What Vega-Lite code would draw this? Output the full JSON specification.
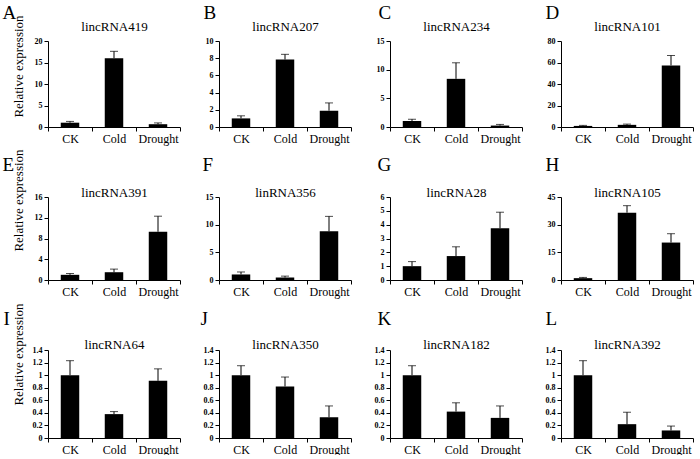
{
  "$schema": "https://vega.github.io/schema/vega-lite/v6.json",
  "padding": {"left": 2, "top": 3, "right": 0, "bottom": 0},
  "background": "white",
  "data": {"values": [
    {"gene": "lincRNA419", "condition": "CK", "value": 1.0, "upper": 1.3},
    {"gene": "lincRNA419", "condition": "Cold", "value": 16.0, "upper": 17.6},
    {"gene": "lincRNA419", "condition": "Drought", "value": 0.65, "upper": 0.95},
    {"gene": "lincRNA207", "condition": "CK", "value": 1.0, "upper": 1.3},
    {"gene": "lincRNA207", "condition": "Cold", "value": 7.85, "upper": 8.45},
    {"gene": "lincRNA207", "condition": "Drought", "value": 1.9, "upper": 2.8},
    {"gene": "lincRNA234", "condition": "CK", "value": 1.05, "upper": 1.35},
    {"gene": "lincRNA234", "condition": "Cold", "value": 8.4, "upper": 11.2},
    {"gene": "lincRNA234", "condition": "Drought", "value": 0.25, "upper": 0.45},
    {"gene": "lincRNA101", "condition": "CK", "value": 1.0, "upper": 1.5},
    {"gene": "lincRNA101", "condition": "Cold", "value": 2.0, "upper": 2.7},
    {"gene": "lincRNA101", "condition": "Drought", "value": 57.3, "upper": 66.5},
    {"gene": "lincRNA391", "condition": "CK", "value": 1.0, "upper": 1.25},
    {"gene": "lincRNA391", "condition": "Cold", "value": 1.5, "upper": 2.1},
    {"gene": "lincRNA391", "condition": "Drought", "value": 9.3, "upper": 12.3},
    {"gene": "linRNA356", "condition": "CK", "value": 1.0, "upper": 1.45},
    {"gene": "linRNA356", "condition": "Cold", "value": 0.45, "upper": 0.7},
    {"gene": "linRNA356", "condition": "Drought", "value": 8.8, "upper": 11.5},
    {"gene": "lincRNA28", "condition": "CK", "value": 1.0, "upper": 1.33},
    {"gene": "lincRNA28", "condition": "Cold", "value": 1.73, "upper": 2.4},
    {"gene": "lincRNA28", "condition": "Drought", "value": 3.74, "upper": 4.9},
    {"gene": "lincRNA105", "condition": "CK", "value": 1.0, "upper": 1.4},
    {"gene": "lincRNA105", "condition": "Cold", "value": 36.5, "upper": 40.3},
    {"gene": "lincRNA105", "condition": "Drought", "value": 20.3, "upper": 25.1},
    {"gene": "lincRNA64", "condition": "CK", "value": 1.0, "upper": 1.23},
    {"gene": "lincRNA64", "condition": "Cold", "value": 0.38, "upper": 0.42},
    {"gene": "lincRNA64", "condition": "Drought", "value": 0.91, "upper": 1.1},
    {"gene": "lincRNA350", "condition": "CK", "value": 1.0, "upper": 1.15},
    {"gene": "lincRNA350", "condition": "Cold", "value": 0.82, "upper": 0.97},
    {"gene": "lincRNA350", "condition": "Drought", "value": 0.33, "upper": 0.51},
    {"gene": "lincRNA182", "condition": "CK", "value": 1.0, "upper": 1.15},
    {"gene": "lincRNA182", "condition": "Cold", "value": 0.42, "upper": 0.56},
    {"gene": "lincRNA182", "condition": "Drought", "value": 0.32, "upper": 0.51},
    {"gene": "lincRNA392", "condition": "CK", "value": 1.0, "upper": 1.23},
    {"gene": "lincRNA392", "condition": "Cold", "value": 0.22, "upper": 0.41},
    {"gene": "lincRNA392", "condition": "Drought", "value": 0.12, "upper": 0.19}
  ]},
  "columns": 4,
  "bounds": "flush",
  "spacing": {"row": 70, "column": 39},
  "concat": [
    {"width": 132, "height": 86,
     "transform": [{"filter": {"field": "gene", "equal": "lincRNA419"}}],
     "layer": [
      {"mark": {"type": "bar", "color": "black", "width": {"band": 0.42}},
       "encoding": {"x": {"field": "condition", "type": "nominal", "sort": ["CK", "Cold", "Drought"], "scale": {"type": "band", "paddingInner": 0, "paddingOuter": 0}, "axis": {"orient": "bottom", "title": null}},
        "y": {"field": "value", "type": "quantitative", "scale": {"domain": [0, 20], "nice": false}, "axis": {"orient": "left", "values": [0, 5, 10, 15, 20], "title": "Relative expression", "titleY": 25}}}},
      {"mark": {"type": "rule", "color": "black"},
       "encoding": {"x": {"field": "condition", "type": "nominal", "sort": ["CK", "Cold", "Drought"], "scale": {"type": "band", "paddingInner": 0, "paddingOuter": 0}, "axis": null},
        "y": {"field": "value", "type": "quantitative", "axis": {"orient": "right", "title": "A", "titleX": -178, "titleY": -23}}, "y2": {"field": "upper"}}},
      {"mark": {"type": "tick", "color": "black", "size": 8, "thickness": 1},
       "encoding": {"x": {"field": "condition", "type": "nominal", "sort": ["CK", "Cold", "Drought"], "scale": {"type": "band", "paddingInner": 0, "paddingOuter": 0}, "axis": {"orient": "top", "title": "lincRNA419", "titleY": -11}},
        "y": {"field": "upper", "type": "quantitative", "axis": null}}}
     ],
     "resolve": {"axis": {"x": "independent", "y": "independent"}}},
    {"width": 132, "height": 86,
     "transform": [{"filter": {"field": "gene", "equal": "lincRNA207"}}],
     "layer": [
      {"mark": {"type": "bar", "color": "black", "width": {"band": 0.42}},
       "encoding": {"x": {"field": "condition", "type": "nominal", "sort": ["CK", "Cold", "Drought"], "scale": {"type": "band", "paddingInner": 0, "paddingOuter": 0}, "axis": {"orient": "bottom", "title": null}},
        "y": {"field": "value", "type": "quantitative", "scale": {"domain": [0, 10], "nice": false}, "axis": {"orient": "left", "values": [0, 2, 4, 6, 8, 10], "title": null}}}},
      {"mark": {"type": "rule", "color": "black"},
       "encoding": {"x": {"field": "condition", "type": "nominal", "sort": ["CK", "Cold", "Drought"], "scale": {"type": "band", "paddingInner": 0, "paddingOuter": 0}, "axis": null},
        "y": {"field": "value", "type": "quantitative", "axis": {"orient": "right", "title": "B", "titleX": -148, "titleY": -23}}, "y2": {"field": "upper"}}},
      {"mark": {"type": "tick", "color": "black", "size": 8, "thickness": 1},
       "encoding": {"x": {"field": "condition", "type": "nominal", "sort": ["CK", "Cold", "Drought"], "scale": {"type": "band", "paddingInner": 0, "paddingOuter": 0}, "axis": {"orient": "top", "title": "lincRNA207", "titleY": -11}},
        "y": {"field": "upper", "type": "quantitative", "axis": null}}}
     ],
     "resolve": {"axis": {"x": "independent", "y": "independent"}}},
    {"width": 132, "height": 86,
     "transform": [{"filter": {"field": "gene", "equal": "lincRNA234"}}],
     "layer": [
      {"mark": {"type": "bar", "color": "black", "width": {"band": 0.42}},
       "encoding": {"x": {"field": "condition", "type": "nominal", "sort": ["CK", "Cold", "Drought"], "scale": {"type": "band", "paddingInner": 0, "paddingOuter": 0}, "axis": {"orient": "bottom", "title": null}},
        "y": {"field": "value", "type": "quantitative", "scale": {"domain": [0, 15], "nice": false}, "axis": {"orient": "left", "values": [0, 5, 10, 15], "title": null}}}},
      {"mark": {"type": "rule", "color": "black"},
       "encoding": {"x": {"field": "condition", "type": "nominal", "sort": ["CK", "Cold", "Drought"], "scale": {"type": "band", "paddingInner": 0, "paddingOuter": 0}, "axis": null},
        "y": {"field": "value", "type": "quantitative", "axis": {"orient": "right", "title": "C", "titleX": -144, "titleY": -23}}, "y2": {"field": "upper"}}},
      {"mark": {"type": "tick", "color": "black", "size": 8, "thickness": 1},
       "encoding": {"x": {"field": "condition", "type": "nominal", "sort": ["CK", "Cold", "Drought"], "scale": {"type": "band", "paddingInner": 0, "paddingOuter": 0}, "axis": {"orient": "top", "title": "lincRNA234", "titleY": -11}},
        "y": {"field": "upper", "type": "quantitative", "axis": null}}}
     ],
     "resolve": {"axis": {"x": "independent", "y": "independent"}}},
    {"width": 132, "height": 86,
     "transform": [{"filter": {"field": "gene", "equal": "lincRNA101"}}],
     "layer": [
      {"mark": {"type": "bar", "color": "black", "width": {"band": 0.42}},
       "encoding": {"x": {"field": "condition", "type": "nominal", "sort": ["CK", "Cold", "Drought"], "scale": {"type": "band", "paddingInner": 0, "paddingOuter": 0}, "axis": {"orient": "bottom", "title": null}},
        "y": {"field": "value", "type": "quantitative", "scale": {"domain": [0, 80], "nice": false}, "axis": {"orient": "left", "values": [0, 20, 40, 60, 80], "title": null}}}},
      {"mark": {"type": "rule", "color": "black"},
       "encoding": {"x": {"field": "condition", "type": "nominal", "sort": ["CK", "Cold", "Drought"], "scale": {"type": "band", "paddingInner": 0, "paddingOuter": 0}, "axis": null},
        "y": {"field": "value", "type": "quantitative", "axis": {"orient": "right", "title": "D", "titleX": -148, "titleY": -23}}, "y2": {"field": "upper"}}},
      {"mark": {"type": "tick", "color": "black", "size": 8, "thickness": 1},
       "encoding": {"x": {"field": "condition", "type": "nominal", "sort": ["CK", "Cold", "Drought"], "scale": {"type": "band", "paddingInner": 0, "paddingOuter": 0}, "axis": {"orient": "top", "title": "lincRNA101", "titleY": -11}},
        "y": {"field": "upper", "type": "quantitative", "axis": null}}}
     ],
     "resolve": {"axis": {"x": "independent", "y": "independent"}}},
    {"width": 132, "height": 83,
     "transform": [{"filter": {"field": "gene", "equal": "lincRNA391"}}],
     "layer": [
      {"mark": {"type": "bar", "color": "black", "width": {"band": 0.42}},
       "encoding": {"x": {"field": "condition", "type": "nominal", "sort": ["CK", "Cold", "Drought"], "scale": {"type": "band", "paddingInner": 0, "paddingOuter": 0}, "axis": {"orient": "bottom", "title": null}},
        "y": {"field": "value", "type": "quantitative", "scale": {"domain": [0, 16], "nice": false}, "axis": {"orient": "left", "values": [0, 4, 8, 12, 16], "title": "Relative expression", "titleY": 3}}}},
      {"mark": {"type": "rule", "color": "black"},
       "encoding": {"x": {"field": "condition", "type": "nominal", "sort": ["CK", "Cold", "Drought"], "scale": {"type": "band", "paddingInner": 0, "paddingOuter": 0}, "axis": null},
        "y": {"field": "value", "type": "quantitative", "axis": {"orient": "right", "title": "E", "titleX": -178, "titleY": -27}}, "y2": {"field": "upper"}}},
      {"mark": {"type": "tick", "color": "black", "size": 8, "thickness": 1},
       "encoding": {"x": {"field": "condition", "type": "nominal", "sort": ["CK", "Cold", "Drought"], "scale": {"type": "band", "paddingInner": 0, "paddingOuter": 0}, "axis": {"orient": "top", "title": "lincRNA391", "titleY": -1}},
        "y": {"field": "upper", "type": "quantitative", "axis": null}}}
     ],
     "resolve": {"axis": {"x": "independent", "y": "independent"}}},
    {"width": 132, "height": 83,
     "transform": [{"filter": {"field": "gene", "equal": "linRNA356"}}],
     "layer": [
      {"mark": {"type": "bar", "color": "black", "width": {"band": 0.42}},
       "encoding": {"x": {"field": "condition", "type": "nominal", "sort": ["CK", "Cold", "Drought"], "scale": {"type": "band", "paddingInner": 0, "paddingOuter": 0}, "axis": {"orient": "bottom", "title": null}},
        "y": {"field": "value", "type": "quantitative", "scale": {"domain": [0, 15], "nice": false}, "axis": {"orient": "left", "values": [0, 5, 10, 15], "title": null}}}},
      {"mark": {"type": "rule", "color": "black"},
       "encoding": {"x": {"field": "condition", "type": "nominal", "sort": ["CK", "Cold", "Drought"], "scale": {"type": "band", "paddingInner": 0, "paddingOuter": 0}, "axis": null},
        "y": {"field": "value", "type": "quantitative", "axis": {"orient": "right", "title": "F", "titleX": -149, "titleY": -27}}, "y2": {"field": "upper"}}},
      {"mark": {"type": "tick", "color": "black", "size": 8, "thickness": 1},
       "encoding": {"x": {"field": "condition", "type": "nominal", "sort": ["CK", "Cold", "Drought"], "scale": {"type": "band", "paddingInner": 0, "paddingOuter": 0}, "axis": {"orient": "top", "title": "linRNA356", "titleY": -1}},
        "y": {"field": "upper", "type": "quantitative", "axis": null}}}
     ],
     "resolve": {"axis": {"x": "independent", "y": "independent"}}},
    {"width": 132, "height": 83,
     "transform": [{"filter": {"field": "gene", "equal": "lincRNA28"}}],
     "layer": [
      {"mark": {"type": "bar", "color": "black", "width": {"band": 0.42}},
       "encoding": {"x": {"field": "condition", "type": "nominal", "sort": ["CK", "Cold", "Drought"], "scale": {"type": "band", "paddingInner": 0, "paddingOuter": 0}, "axis": {"orient": "bottom", "title": null}},
        "y": {"field": "value", "type": "quantitative", "scale": {"domain": [0, 6], "nice": false}, "axis": {"orient": "left", "values": [0, 1, 2, 3, 4, 5, 6], "title": null}}}},
      {"mark": {"type": "rule", "color": "black"},
       "encoding": {"x": {"field": "condition", "type": "nominal", "sort": ["CK", "Cold", "Drought"], "scale": {"type": "band", "paddingInner": 0, "paddingOuter": 0}, "axis": null},
        "y": {"field": "value", "type": "quantitative", "axis": {"orient": "right", "title": "G", "titleX": -145, "titleY": -27}}, "y2": {"field": "upper"}}},
      {"mark": {"type": "tick", "color": "black", "size": 8, "thickness": 1},
       "encoding": {"x": {"field": "condition", "type": "nominal", "sort": ["CK", "Cold", "Drought"], "scale": {"type": "band", "paddingInner": 0, "paddingOuter": 0}, "axis": {"orient": "top", "title": "lincRNA28", "titleY": -1}},
        "y": {"field": "upper", "type": "quantitative", "axis": null}}}
     ],
     "resolve": {"axis": {"x": "independent", "y": "independent"}}},
    {"width": 132, "height": 83,
     "transform": [{"filter": {"field": "gene", "equal": "lincRNA105"}}],
     "layer": [
      {"mark": {"type": "bar", "color": "black", "width": {"band": 0.42}},
       "encoding": {"x": {"field": "condition", "type": "nominal", "sort": ["CK", "Cold", "Drought"], "scale": {"type": "band", "paddingInner": 0, "paddingOuter": 0}, "axis": {"orient": "bottom", "title": null}},
        "y": {"field": "value", "type": "quantitative", "scale": {"domain": [0, 45], "nice": false}, "axis": {"orient": "left", "values": [0, 15, 30, 45], "title": null}}}},
      {"mark": {"type": "rule", "color": "black"},
       "encoding": {"x": {"field": "condition", "type": "nominal", "sort": ["CK", "Cold", "Drought"], "scale": {"type": "band", "paddingInner": 0, "paddingOuter": 0}, "axis": null},
        "y": {"field": "value", "type": "quantitative", "axis": {"orient": "right", "title": "H", "titleX": -148, "titleY": -27}}, "y2": {"field": "upper"}}},
      {"mark": {"type": "tick", "color": "black", "size": 8, "thickness": 1},
       "encoding": {"x": {"field": "condition", "type": "nominal", "sort": ["CK", "Cold", "Drought"], "scale": {"type": "band", "paddingInner": 0, "paddingOuter": 0}, "axis": {"orient": "top", "title": "lincRNA105", "titleY": -1}},
        "y": {"field": "upper", "type": "quantitative", "axis": null}}}
     ],
     "resolve": {"axis": {"x": "independent", "y": "independent"}}},
    {"width": 132, "height": 88,
     "transform": [{"filter": {"field": "gene", "equal": "lincRNA64"}}],
     "layer": [
      {"mark": {"type": "bar", "color": "black", "width": {"band": 0.42}},
       "encoding": {"x": {"field": "condition", "type": "nominal", "sort": ["CK", "Cold", "Drought"], "scale": {"type": "band", "paddingInner": 0, "paddingOuter": 0}, "axis": {"orient": "bottom", "title": null}},
        "y": {"field": "value", "type": "quantitative", "scale": {"domain": [0, 1.4], "nice": false}, "axis": {"orient": "left", "values": [0, 0.2, 0.4, 0.6, 0.8, 1, 1.2, 1.4], "title": "Relative expression", "titleY": 4}}}},
      {"mark": {"type": "rule", "color": "black"},
       "encoding": {"x": {"field": "condition", "type": "nominal", "sort": ["CK", "Cold", "Drought"], "scale": {"type": "band", "paddingInner": 0, "paddingOuter": 0}, "axis": null},
        "y": {"field": "value", "type": "quantitative", "axis": {"orient": "right", "title": "I", "titleX": -177, "titleY": -26}}, "y2": {"field": "upper"}}},
      {"mark": {"type": "tick", "color": "black", "size": 8, "thickness": 1},
       "encoding": {"x": {"field": "condition", "type": "nominal", "sort": ["CK", "Cold", "Drought"], "scale": {"type": "band", "paddingInner": 0, "paddingOuter": 0}, "axis": {"orient": "top", "title": "lincRNA64", "titleY": -2}},
        "y": {"field": "upper", "type": "quantitative", "axis": null}}}
     ],
     "resolve": {"axis": {"x": "independent", "y": "independent"}}},
    {"width": 132, "height": 88,
     "transform": [{"filter": {"field": "gene", "equal": "lincRNA350"}}],
     "layer": [
      {"mark": {"type": "bar", "color": "black", "width": {"band": 0.42}},
       "encoding": {"x": {"field": "condition", "type": "nominal", "sort": ["CK", "Cold", "Drought"], "scale": {"type": "band", "paddingInner": 0, "paddingOuter": 0}, "axis": {"orient": "bottom", "title": null}},
        "y": {"field": "value", "type": "quantitative", "scale": {"domain": [0, 1.4], "nice": false}, "axis": {"orient": "left", "values": [0, 0.2, 0.4, 0.6, 0.8, 1, 1.2, 1.4], "title": null}}}},
      {"mark": {"type": "rule", "color": "black"},
       "encoding": {"x": {"field": "condition", "type": "nominal", "sort": ["CK", "Cold", "Drought"], "scale": {"type": "band", "paddingInner": 0, "paddingOuter": 0}, "axis": null},
        "y": {"field": "value", "type": "quantitative", "axis": {"orient": "right", "title": "J", "titleX": -151, "titleY": -26}}, "y2": {"field": "upper"}}},
      {"mark": {"type": "tick", "color": "black", "size": 8, "thickness": 1},
       "encoding": {"x": {"field": "condition", "type": "nominal", "sort": ["CK", "Cold", "Drought"], "scale": {"type": "band", "paddingInner": 0, "paddingOuter": 0}, "axis": {"orient": "top", "title": "lincRNA350", "titleY": -2}},
        "y": {"field": "upper", "type": "quantitative", "axis": null}}}
     ],
     "resolve": {"axis": {"x": "independent", "y": "independent"}}},
    {"width": 132, "height": 88,
     "transform": [{"filter": {"field": "gene", "equal": "lincRNA182"}}],
     "layer": [
      {"mark": {"type": "bar", "color": "black", "width": {"band": 0.42}},
       "encoding": {"x": {"field": "condition", "type": "nominal", "sort": ["CK", "Cold", "Drought"], "scale": {"type": "band", "paddingInner": 0, "paddingOuter": 0}, "axis": {"orient": "bottom", "title": null}},
        "y": {"field": "value", "type": "quantitative", "scale": {"domain": [0, 1.4], "nice": false}, "axis": {"orient": "left", "values": [0, 0.2, 0.4, 0.6, 0.8, 1, 1.2, 1.4], "title": null}}}},
      {"mark": {"type": "rule", "color": "black"},
       "encoding": {"x": {"field": "condition", "type": "nominal", "sort": ["CK", "Cold", "Drought"], "scale": {"type": "band", "paddingInner": 0, "paddingOuter": 0}, "axis": null},
        "y": {"field": "value", "type": "quantitative", "axis": {"orient": "right", "title": "K", "titleX": -145, "titleY": -26}}, "y2": {"field": "upper"}}},
      {"mark": {"type": "tick", "color": "black", "size": 8, "thickness": 1},
       "encoding": {"x": {"field": "condition", "type": "nominal", "sort": ["CK", "Cold", "Drought"], "scale": {"type": "band", "paddingInner": 0, "paddingOuter": 0}, "axis": {"orient": "top", "title": "lincRNA182", "titleY": -2}},
        "y": {"field": "upper", "type": "quantitative", "axis": null}}}
     ],
     "resolve": {"axis": {"x": "independent", "y": "independent"}}},
    {"width": 132, "height": 88,
     "transform": [{"filter": {"field": "gene", "equal": "lincRNA392"}}],
     "layer": [
      {"mark": {"type": "bar", "color": "black", "width": {"band": 0.42}},
       "encoding": {"x": {"field": "condition", "type": "nominal", "sort": ["CK", "Cold", "Drought"], "scale": {"type": "band", "paddingInner": 0, "paddingOuter": 0}, "axis": {"orient": "bottom", "title": null}},
        "y": {"field": "value", "type": "quantitative", "scale": {"domain": [0, 1.4], "nice": false}, "axis": {"orient": "left", "values": [0, 0.2, 0.4, 0.6, 0.8, 1, 1.2, 1.4], "title": null}}}},
      {"mark": {"type": "rule", "color": "black"},
       "encoding": {"x": {"field": "condition", "type": "nominal", "sort": ["CK", "Cold", "Drought"], "scale": {"type": "band", "paddingInner": 0, "paddingOuter": 0}, "axis": null},
        "y": {"field": "value", "type": "quantitative", "axis": {"orient": "right", "title": "L", "titleX": -148, "titleY": -26}}, "y2": {"field": "upper"}}},
      {"mark": {"type": "tick", "color": "black", "size": 8, "thickness": 1},
       "encoding": {"x": {"field": "condition", "type": "nominal", "sort": ["CK", "Cold", "Drought"], "scale": {"type": "band", "paddingInner": 0, "paddingOuter": 0}, "axis": {"orient": "top", "title": "lincRNA392", "titleY": -2}},
        "y": {"field": "upper", "type": "quantitative", "axis": null}}}
     ],
     "resolve": {"axis": {"x": "independent", "y": "independent"}}}
  ],
  "config": {
    "view": {"stroke": null},
    "font": "Liberation Serif",
    "axis": {"grid": false, "labelFont": "Liberation Serif", "labelColor": "black", "domainColor": "black", "tickColor": "black", "tickSize": 4, "titleFont": "Liberation Serif", "titleColor": "black", "titleFontWeight": "normal", "labelOverlap": false},
    "axisBottom": {"labelFontSize": 12, "labelAngle": 0, "labelPadding": 2, "tickBand": "extent"},
    "axisTop": {"domain": false, "ticks": false, "labels": false, "titleFontSize": 13, "titleAngle": 0, "titleAlign": "center", "titleBaseline": "alphabetic", "titleX": 66},
    "axisRight": {"domain": false, "ticks": false, "labels": false, "titleFontSize": 19, "titleAngle": 0, "titleAlign": "left", "titleBaseline": "alphabetic"},
    "axisLeft": {"labelFontSize": 8, "labelFontWeight": "bold", "labelPadding": 2, "format": ".2~r", "titleFontSize": 13, "titleAngle": -90, "titleAlign": "center", "titleBaseline": "middle", "titleX": -30}
  }
}
